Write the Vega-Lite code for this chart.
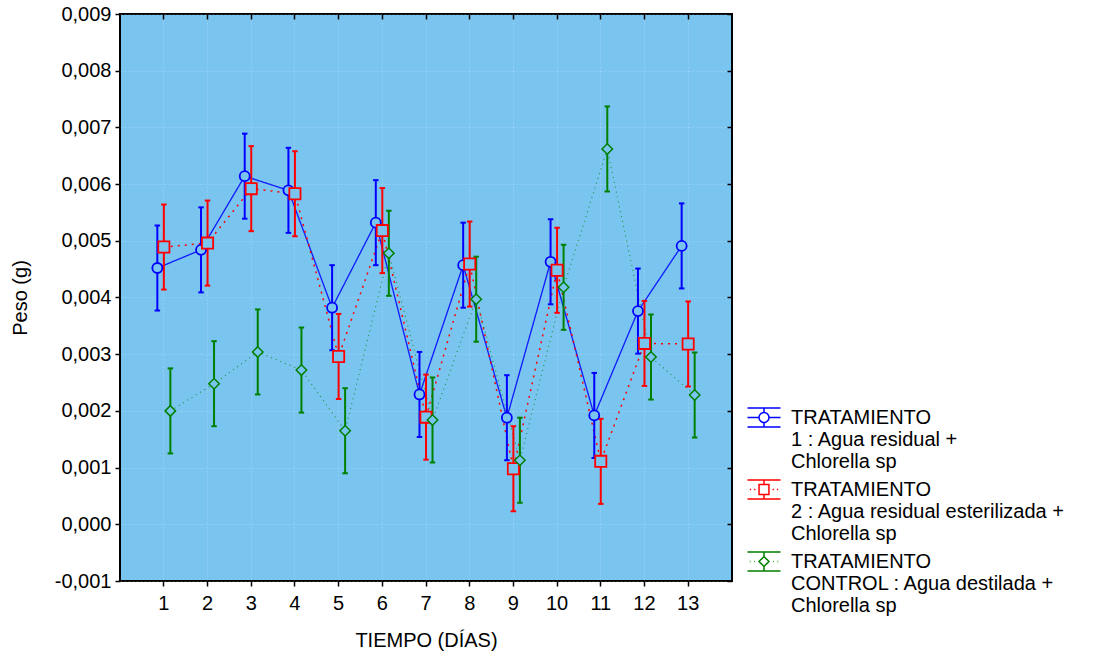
{
  "$schema": "https://vega.github.io/schema/vega-lite/v6.json",
  "autosize": {"type": "none"},
  "padding": {"left": 120, "top": 14, "right": 369, "bottom": 77},
  "width": 612,
  "height": 567,
  "background": "#ffffff",
  "view": {"fill": "#79C5F0", "stroke": "#000000", "strokeWidth": 2},
  "config": {
    "font": "Liberation Sans",
    "view": {"fill": "#79C5F0", "stroke": "#000000", "strokeWidth": 2},
    "axis": {
      "labelFont": "Liberation Sans",
      "titleFont": "Liberation Sans",
      "labelFontSize": 20,
      "titleFontSize": 20,
      "titleFontWeight": "normal",
      "labelColor": "#000000",
      "titleColor": "#000000",
      "tickColor": "#000000",
      "tickWidth": 1.5,
      "tickSize": 5,
      "domain": false,
      "gridColor": "#ffffff",
      "gridOpacity": 0.2,
      "gridDash": [2, 2],
      "gridWidth": 1
    }
  },
  "data": {
    "values": [
      {"dia": 1, "serie": "T1", "peso": 0.00452, "lo": 0.00377, "hi": 0.00527},
      {"dia": 2, "serie": "T1", "peso": 0.00484, "lo": 0.00409, "hi": 0.00559},
      {"dia": 3, "serie": "T1", "peso": 0.00614, "lo": 0.00539, "hi": 0.00689},
      {"dia": 4, "serie": "T1", "peso": 0.00589, "lo": 0.00514, "hi": 0.00664},
      {"dia": 5, "serie": "T1", "peso": 0.00382, "lo": 0.00307, "hi": 0.00457},
      {"dia": 6, "serie": "T1", "peso": 0.00532, "lo": 0.00457, "hi": 0.00607},
      {"dia": 7, "serie": "T1", "peso": 0.00229, "lo": 0.00154, "hi": 0.00304},
      {"dia": 8, "serie": "T1", "peso": 0.00457, "lo": 0.00382, "hi": 0.00532},
      {"dia": 9, "serie": "T1", "peso": 0.00188, "lo": 0.00113, "hi": 0.00263},
      {"dia": 10, "serie": "T1", "peso": 0.00463, "lo": 0.00388, "hi": 0.00538},
      {"dia": 11, "serie": "T1", "peso": 0.00192, "lo": 0.00117, "hi": 0.00267},
      {"dia": 12, "serie": "T1", "peso": 0.00376, "lo": 0.00301, "hi": 0.00451},
      {"dia": 13, "serie": "T1", "peso": 0.00491, "lo": 0.00416, "hi": 0.00566},
      {"dia": 1, "serie": "T2", "peso": 0.00489, "lo": 0.00414, "hi": 0.00564},
      {"dia": 2, "serie": "T2", "peso": 0.00496, "lo": 0.00421, "hi": 0.00571},
      {"dia": 3, "serie": "T2", "peso": 0.00592, "lo": 0.00517, "hi": 0.00667},
      {"dia": 4, "serie": "T2", "peso": 0.00583, "lo": 0.00508, "hi": 0.00658},
      {"dia": 5, "serie": "T2", "peso": 0.00296, "lo": 0.00221, "hi": 0.00371},
      {"dia": 6, "serie": "T2", "peso": 0.00518, "lo": 0.00443, "hi": 0.00593},
      {"dia": 7, "serie": "T2", "peso": 0.00189, "lo": 0.00114, "hi": 0.00264},
      {"dia": 8, "serie": "T2", "peso": 0.00459, "lo": 0.00384, "hi": 0.00534},
      {"dia": 9, "serie": "T2", "peso": 0.00098, "lo": 0.00023, "hi": 0.00173},
      {"dia": 10, "serie": "T2", "peso": 0.00448, "lo": 0.00373, "hi": 0.00523},
      {"dia": 11, "serie": "T2", "peso": 0.00111, "lo": 0.00036, "hi": 0.00186},
      {"dia": 12, "serie": "T2", "peso": 0.00319, "lo": 0.00244, "hi": 0.00394},
      {"dia": 13, "serie": "T2", "peso": 0.00318, "lo": 0.00243, "hi": 0.00393},
      {"dia": 1, "serie": "C", "peso": 0.00200, "lo": 0.00125, "hi": 0.00275},
      {"dia": 2, "serie": "C", "peso": 0.00248, "lo": 0.00173, "hi": 0.00323},
      {"dia": 3, "serie": "C", "peso": 0.00304, "lo": 0.00229, "hi": 0.00379},
      {"dia": 4, "serie": "C", "peso": 0.00272, "lo": 0.00197, "hi": 0.00347},
      {"dia": 5, "serie": "C", "peso": 0.00165, "lo": 0.00090, "hi": 0.00240},
      {"dia": 6, "serie": "C", "peso": 0.00478, "lo": 0.00403, "hi": 0.00553},
      {"dia": 7, "serie": "C", "peso": 0.00184, "lo": 0.00109, "hi": 0.00259},
      {"dia": 8, "serie": "C", "peso": 0.00397, "lo": 0.00322, "hi": 0.00472},
      {"dia": 9, "serie": "C", "peso": 0.00113, "lo": 0.00038, "hi": 0.00188},
      {"dia": 10, "serie": "C", "peso": 0.00418, "lo": 0.00343, "hi": 0.00493},
      {"dia": 11, "serie": "C", "peso": 0.00662, "lo": 0.00587, "hi": 0.00737},
      {"dia": 12, "serie": "C", "peso": 0.00295, "lo": 0.00220, "hi": 0.00370},
      {"dia": 13, "serie": "C", "peso": 0.00228, "lo": 0.00153, "hi": 0.00303}
    ]
  },
  "layer": [
    {
      "mark": {"type": "line"},
      "encoding": {
        "x": {
          "field": "dia",
          "type": "ordinal",
          "scale": {"type": "band", "paddingInner": 0.553, "paddingOuter": 0.78},
          "axis": {
            "orient": "bottom",
            "title": "TIEMPO (DÍAS)",
            "labelAngle": 0,
            "labelPadding": 7,
            "titlePadding": 17,
            "grid": true
          }
        },
        "xOffset": {
          "field": "serie",
          "type": "nominal",
          "scale": {"domain": ["T1", "T2", "C"], "paddingInner": 0, "paddingOuter": 0}
        },
        "y": {
          "field": "peso",
          "type": "quantitative",
          "scale": {"domain": [-0.001, 0.009], "nice": false, "zero": false},
          "axis": {
            "orient": "left",
            "title": "Peso (g)",
            "values": [-0.001, 0, 0.001, 0.002, 0.003, 0.004, 0.005, 0.006, 0.007, 0.008, 0.009],
            "labelExpr": "replace(replace(format(datum.value, '.3f'), '.', ','), '\u2212', '-')",
            "labelPadding": 4,
            "titlePadding": 24,
            "grid": true
          }
        },
        "stroke": {
          "field": "serie",
          "type": "nominal",
          "scale": {"domain": ["C", "T1", "T2"], "range": ["#008000", "#0000FF", "#FF0000"]},
          "legend": null
        },
        "strokeDash": {
          "field": "serie",
          "type": "nominal",
          "scale": {"domain": ["C", "T1", "T2"], "range": [[1, 4], [1, 0], [2, 5]]},
          "legend": null
        },
        "strokeWidth": {
          "field": "serie",
          "type": "nominal",
          "scale": {"domain": ["C", "T1", "T2"], "range": [1.2, 1.5, 2]},
          "legend": null
        },
        "strokeOpacity": {
          "field": "serie",
          "type": "nominal",
          "scale": {"domain": ["C", "T1", "T2"], "range": [0.7, 1, 1]},
          "legend": null
        }
      }
    },
    {
      "mark": {"type": "rule", "strokeWidth": 2},
      "encoding": {
        "x": {"field": "dia", "type": "ordinal", "axis": null},
        "xOffset": {"field": "serie", "type": "nominal"},
        "y": {"field": "lo", "type": "quantitative", "axis": null},
        "y2": {"field": "hi"},
        "stroke": {"field": "serie", "type": "nominal", "legend": null}
      }
    },
    {
      "mark": {"type": "point", "shape": "stroke", "size": 30, "strokeWidth": 2, "opacity": 1},
      "encoding": {
        "x": {"field": "dia", "type": "ordinal", "axis": null},
        "xOffset": {"field": "serie", "type": "nominal"},
        "y": {"field": "lo", "type": "quantitative", "axis": null},
        "stroke": {"field": "serie", "type": "nominal", "legend": null}
      }
    },
    {
      "mark": {"type": "point", "shape": "stroke", "size": 30, "strokeWidth": 2, "opacity": 1},
      "encoding": {
        "x": {"field": "dia", "type": "ordinal", "axis": null},
        "xOffset": {"field": "serie", "type": "nominal"},
        "y": {"field": "hi", "type": "quantitative", "axis": null},
        "stroke": {"field": "serie", "type": "nominal", "legend": null}
      }
    },
    {
      "transform": [{"filter": "datum.serie === 'T1'"}],
      "mark": {"type": "point", "shape": "circle", "size": 100, "filled": false, "fill": "#79C5F0", "fillOpacity": 1, "strokeWidth": 1.8, "opacity": 1},
      "encoding": {
        "x": {
          "field": "dia",
          "type": "ordinal",
          "axis": {"orient": "top", "labels": false, "title": null, "tickSize": -5, "grid": false}
        },
        "xOffset": {"field": "serie", "type": "nominal"},
        "y": {
          "field": "peso",
          "type": "quantitative",
          "axis": {"orient": "right", "labels": false, "title": null, "tickSize": -5, "grid": false,
                   "values": [-0.001, 0, 0.001, 0.002, 0.003, 0.004, 0.005, 0.006, 0.007, 0.008, 0.009]}
        },
        "stroke": {"field": "serie", "type": "nominal", "legend": null}
      }
    },
    {
      "transform": [{"filter": "datum.serie === 'T2'"}],
      "mark": {"type": "point", "shape": "square", "size": 125, "filled": false, "fill": "#79C5F0", "fillOpacity": 1, "strokeWidth": 1.8, "opacity": 1},
      "encoding": {
        "x": {"field": "dia", "type": "ordinal", "axis": null},
        "xOffset": {"field": "serie", "type": "nominal"},
        "y": {"field": "peso", "type": "quantitative", "axis": null},
        "stroke": {"field": "serie", "type": "nominal", "legend": null}
      }
    },
    {
      "transform": [{"filter": "datum.serie === 'C'"}],
      "mark": {"type": "point", "shape": "diamond", "size": 110, "filled": false, "fill": "#79C5F0", "fillOpacity": 1, "strokeWidth": 1.5, "opacity": 1},
      "encoding": {
        "x": {"field": "dia", "type": "ordinal", "axis": null},
        "xOffset": {"field": "serie", "type": "nominal"},
        "y": {"field": "peso", "type": "quantitative", "axis": null},
        "stroke": {"field": "serie", "type": "nominal", "legend": null}
      }
    },
    {
      "mark": {"type": "point", "filled": false, "opacity": 0},
      "encoding": {
        "color": {
          "field": "serie",
          "type": "nominal",
          "scale": {"domain": ["T1", "T2", "C"], "range": ["#0000FF", "#FF0000", "#008000"]},
          "legend": {
            "orient": "none",
            "legendX": 626.5,
            "legendY": 386,
            "title": null,
            "padding": 0,
            "rowPadding": 0,
            "symbolSize": 1089,
            "symbolStrokeWidth": 1.5,
            "symbolFillColor": "transparent",
            "symbolDash": [1, 0],
            "symbolOpacity": 1,
            "labelFont": "Liberation Sans",
            "labelFontSize": 20,
            "labelColor": "#000000",
            "labelLimit": 400,
            "labelOffset": 9.5,
            "labelExpr": "datum.value === 'T1' ? ['TRATAMIENTO', '1 : Agua residual +', 'Chlorella sp'] : datum.value === 'T2' ? ['TRATAMIENTO', '2 : Agua residual esterilizada +', 'Chlorella sp'] : ['TRATAMIENTO', 'CONTROL : Agua destilada +', 'Chlorella sp']"
          }
        },
        "shape": {
          "field": "serie",
          "type": "nominal",
          "scale": {
            "domain": ["T1", "T2", "C"],
            "range": [
              "M-1,-0.58H1M-1,0.58H1M0,-0.58V-0.3M0,0.3V0.58M-1,0H-0.3M0.3,0H1M-0.3,0A0.3,0.3 0 1,0 0.3,0A0.3,0.3 0 1,0 -0.3,0Z",
              "M-1,-0.58H1M-1,0.58H1M0,-0.58V-0.3M0,0.3V0.58M-0.86,0H-0.78M-0.6,0H-0.52M0.52,0H0.6M0.78,0H0.86M-0.3,-0.3H0.3V0.3H-0.3Z",
              "M-1,-0.58H1M-1,0.58H1M0,-0.58V-0.3M0,0.3V0.58M-0.86,0H-0.82M-0.6,0H-0.56M0.56,0H0.6M0.82,0H0.86M0,-0.3L0.3,0L0,0.3L-0.3,0Z"
            ]
          },
          "legend": {
            "orient": "none",
            "legendX": 626.5,
            "legendY": 386,
            "title": null,
            "padding": 0,
            "rowPadding": 0,
            "symbolSize": 1089,
            "symbolStrokeWidth": 1.5,
            "symbolFillColor": "transparent",
            "symbolDash": [1, 0],
            "symbolOpacity": 1,
            "labelFont": "Liberation Sans",
            "labelFontSize": 20,
            "labelColor": "#000000",
            "labelLimit": 400,
            "labelOffset": 9.5,
            "labelExpr": "datum.value === 'T1' ? ['TRATAMIENTO', '1 : Agua residual +', 'Chlorella sp'] : datum.value === 'T2' ? ['TRATAMIENTO', '2 : Agua residual esterilizada +', 'Chlorella sp'] : ['TRATAMIENTO', 'CONTROL : Agua destilada +', 'Chlorella sp']"
          }
        }
      }
    }
  ],
  "resolve": {"axis": {"x": "independent", "y": "independent"}}
}
